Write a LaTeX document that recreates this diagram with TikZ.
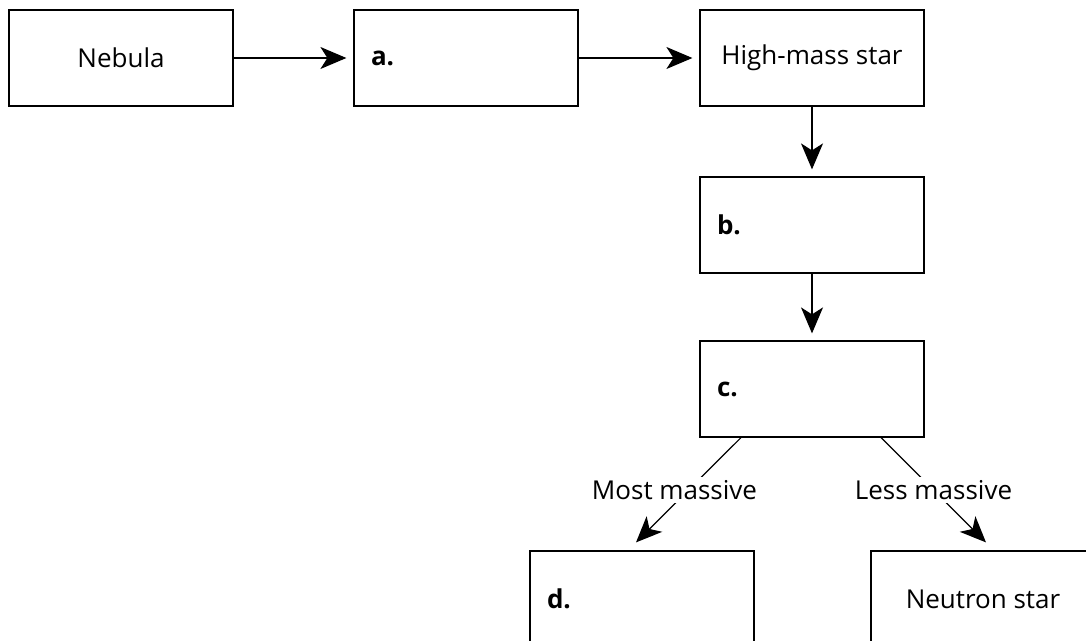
\documentclass[tikz,border=0pt]{standalone}
\usepackage{fontspec}
\setmainfont{Open Sans}
\usetikzlibrary{positioning, arrows.meta, calc}

\tikzset{
    box/.style={draw, line width=0.6pt, minimum width=112pt, minimum height=48pt,
        inner sep=0pt, font=\fontsize{13}{15}\selectfont},
    blank/.style={box, text width=95pt, inner xsep=8.5pt, align=left,
        font=\fontsize{13}{15}\selectfont\bfseries},
    flow/.style={-{Stealth[length=13pt, width=11pt, inset=3.5pt]}, line width=0.6pt,
        shorten >=3.5pt},
    branch/.style={fill=white, inner sep=1.5pt, font=\fontsize{13}{15}\selectfont},
}

\begin{document}
\begin{tikzpicture}
    \useasboundingbox (0,0) rectangle (543pt,-320.5pt);

    % stages
    \node [box, anchor=north west] (nebula) at (4.2pt,-4.7pt) {Nebula};
    \node [blank, right=59.9pt of nebula] (a) {a.};
    \node [box, right=60.4pt of a] (hms) {High-mass star};
    \node [blank, below=34.9pt of hms] (b) {b.};
    \node [blank, below=33.4pt of b] (c) {c.};
    \node [blank, below=56.4pt of c, xshift=-85pt] (d) {d.};
    \node [box, below=56.4pt of c, xshift=85.5pt] (ns) {Neutron star};

    % branch ends
    \coordinate (c_left) at ($(c.south)+(-35.5pt,0)$);
    \coordinate (c_right) at ($(c.south)+(34.5pt,0)$);
    \coordinate (d_top) at ($(d.north)+(-3pt,4pt)$);
    \coordinate (ns_top) at ($(ns.north)+(1.5pt,4pt)$);

    \draw [flow] (nebula) -- (a);
    \draw [flow] (a) -- (hms);
    \draw [flow] (hms) -- (b);
    \draw [flow] (b) -- (c);
    \draw [flow, shorten >=0pt] (c_left) -- node [branch, xshift=-7pt] {Most massive} (d_top);
    \draw [flow, shorten >=0pt] (c_right) -- node [branch] {Less massive} (ns_top);
\end{tikzpicture}
\end{document}
